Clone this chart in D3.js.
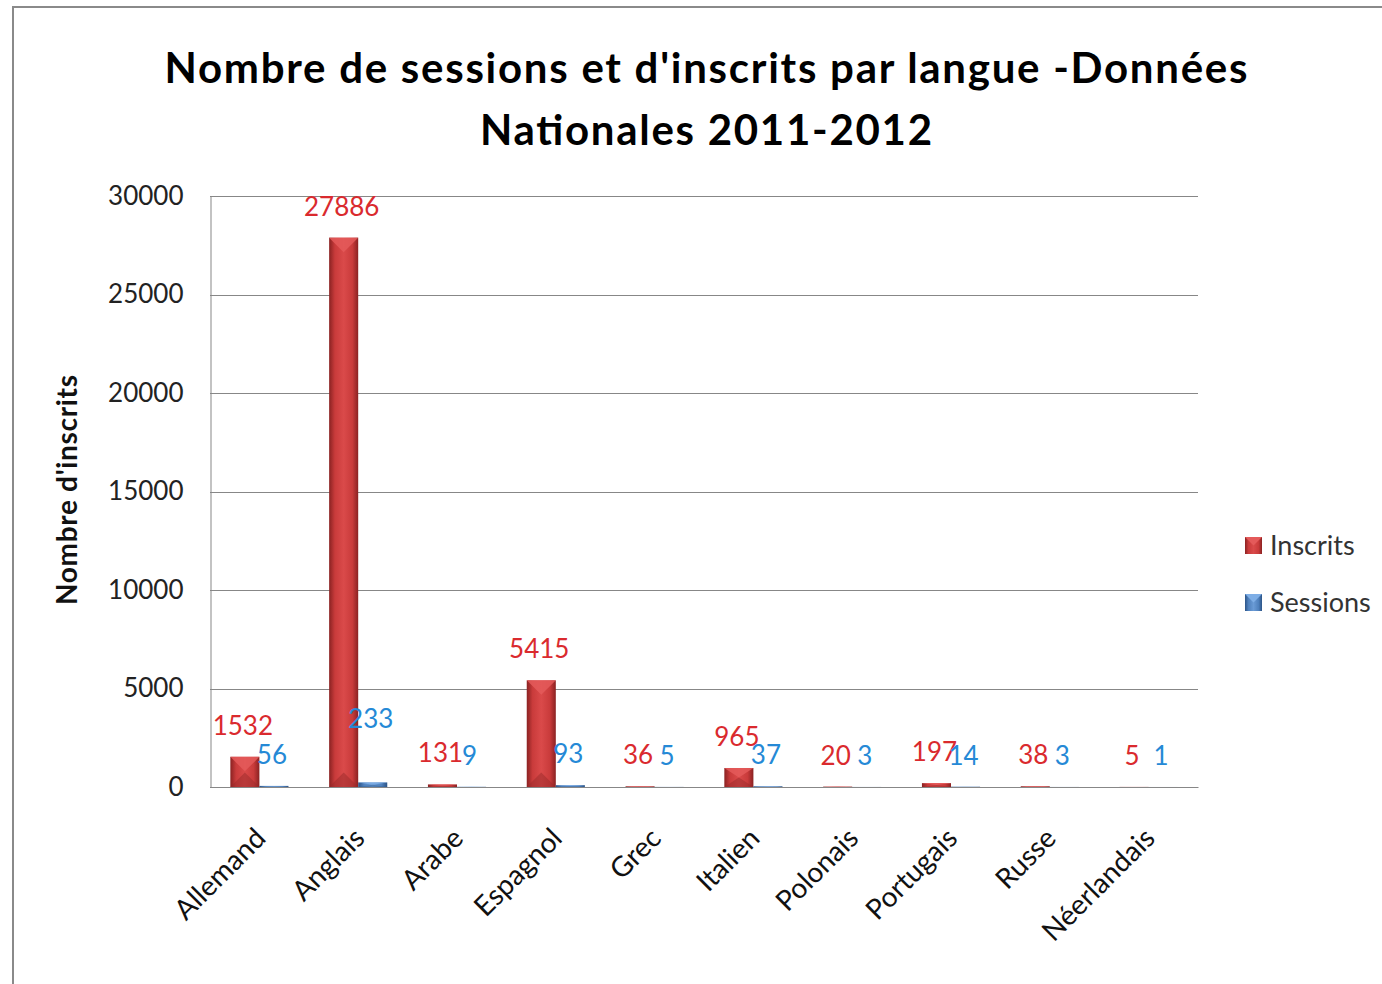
<!DOCTYPE html>
<html lang='fr'>
<head>
	<meta charset='UTF-8'/>
	<title>Sessions et inscrits par langue</title>
	<script src='https://cdnjs.cloudflare.com/ajax/libs/d3/7.8.5/d3.min.js'></script>
	<style>
		body {margin: 0; background: #fff;}
		svg {display: block;}
		text {font-family: Lato, 'Open Sans', sans-serif;}
	</style>
</head>
<body>
	<div class='graph'></div>
	<script>
		// data
		const langues = ['Allemand', 'Anglais', 'Arabe', 'Espagnol', 'Grec', 'Italien', 'Polonais', 'Portugais', 'Russe', 'Néerlandais'];
		const inscrits = [1532, 27886, 131, 5415, 36, 965, 20, 197, 38, 5];
		const sessions = [56, 233, 9, 93, 5, 37, 3, 14, 3, 1];
		const yTicks = [0, 5000, 10000, 15000, 20000, 25000, 30000];
		const seriesNames = ['Inscrits', 'Sessions'];

		const width = 1382, height = 984;
		const margin = {top: 196, right: 184, bottom: 197, left: 210};

		const svg = d3.select('.graph')
			.append('svg')
			.attr('width', width)
			.attr('height', height);

		// chart frame
		svg.append('rect')
			.attr('x', 13).attr('y', 7)
			.attr('width', 1400).attr('height', 1000)
			.style('fill', '#fff')
			.style('stroke', '#8a8a8a')
			.style('stroke-width', 2);

		// gradients for the bevelled bars
		const defs = svg.append('defs');
		const grads = {
			Inscrits: ['#8a2222', '#c93b3b', '#da4a4a', '#c93b3b', '#8a2222'],
			Sessions: ['#2c5487', '#4f81bd', '#6a9bd6', '#4f81bd', '#2c5487']
		};
		Object.keys(grads).forEach(k => {
			const g = defs.append('linearGradient').attr('id', 'g' + k)
				.attr('x1', 0).attr('x2', 1).attr('y1', 0).attr('y2', 0);
			grads[k].forEach((c, i) => g.append('stop')
				.attr('offset', [0, 0.2, 0.5, 0.8, 1][i]).attr('stop-color', c));
		});

		// title
		const title = svg.append('g')
			.style('font-weight', 'bold')
			.style('font-size', '42px')
			.attr('text-anchor', 'middle');
		title.append('text')
			.attr('x', 706).attr('y', 83)
			.attr('textLength', 1083)
			.style('font-family', "'Comic Sans MS', Lato, sans-serif")
			.text("Nombre de sessions et d'inscrits par langue -Données");
		title.append('text')
			.attr('x', 706).attr('y', 145)
			.attr('textLength', 452)
			.style('font-family', "'Comic Sans MS', Lato, sans-serif")
			.text('Nationales 2011-2012');

		// scales
		const x0 = d3.scaleBand()
			.domain(langues)
			.range([margin.left, width - margin.right])
			.padding(0);
		const x1 = d3.scaleBand()
			.domain(seriesNames)
			.range([0, x0.bandwidth()])
			.paddingInner(0)
			.paddingOuter(0.7);
		const y = d3.scaleLinear()
			.domain([0, 30000])
			.range([height - margin.bottom, margin.top]);

		// gridlines
		svg.append('g')
			.selectAll('line')
			.data(yTicks)
			.enter()
			.append('line')
			.attr('x1', margin.left).attr('x2', width - margin.right)
			.attr('y1', d => Math.round(y(d)) + 0.5).attr('y2', d => Math.round(y(d)) + 0.5)
			.style('stroke', '#878787')
			.style('stroke-width', 1);

		// y axis
		const yAxis = svg.append('g')
			.attr('transform', 'translate(' + (margin.left + 0.5) + ', 0)')
			.call(d3.axisLeft(y).tickValues(yTicks).tickFormat(d3.format('d')).tickSize(0).tickPadding(27));
		yAxis.select('.domain').style('stroke', '#878787');
		yAxis.selectAll('text')
			.style('font-family', 'Lato, sans-serif')
			.style('font-size', '26px')
			.style('fill', '#222');

		svg.append('text')
			.attr('transform', 'translate(77, 490) rotate(-90)')
			.attr('text-anchor', 'middle')
			.attr('textLength', 230)
			.style('font-size', '28px')
			.style('font-weight', 'bold')
			.style('fill', '#111')
			.text("Nombre d'inscrits");

		// x axis labels
		const xAxis = svg.append('g')
			.attr('transform', 'translate(0, ' + (height - margin.bottom) + ')')
			.call(d3.axisBottom(x0).tickSize(0).tickPadding(0));
		xAxis.select('.domain').style('stroke', '#878787');
		xAxis.selectAll('text')
			.attr('text-anchor', 'end')
			.attr('dy', 0)
			.attr('transform', 'translate(8, 53) rotate(-45)')
			.style('font-family', 'Lato, sans-serif')
			.style('font-size', '28px')
			.style('fill', '#111');

		// bars
		const rows = langues.map((l, i) => ({langue: l, Inscrits: inscrits[i], Sessions: sessions[i]}));
		const groups = svg.append('g')
			.selectAll('g')
			.data(rows)
			.enter()
			.append('g')
			.attr('transform', d => 'translate(' + x0(d.langue) + ', 0)');

		const bars = groups.selectAll('g')
			.data(d => seriesNames.map(k => ({key: k, value: d[k], other: d.Inscrits})))
			.enter()
			.append('g');

		bars.append('rect')
			.attr('x', d => x1(d.key))
			.attr('y', d => y(d.value))
			.attr('width', x1.bandwidth())
			.attr('height', d => y(0) - y(d.value))
			.style('fill', d => 'url(#g' + d.key + ')');

		// bevel on top and bottom of each bar
		bars.append('path')
			.attr('d', d => {
				const xa = x1(d.key), xb = xa + x1.bandwidth(), xc = xa + x1.bandwidth() / 2;
				const top = y(d.value), depth = Math.min(x1.bandwidth() / 2, (y(0) - top) / 2);
				return 'M' + xa + ',' + top + 'L' + xb + ',' + top + 'L' + xc + ',' + (top + depth) + 'Z';
			})
			.style('fill', d => d.key === 'Inscrits' ? '#e45a5a' : '#7eaee6')
			.style('opacity', 0.85);
		bars.append('path')
			.attr('d', d => {
				const xa = x1(d.key), xb = xa + x1.bandwidth(), xc = xa + x1.bandwidth() / 2;
				const top = y(d.value), bot = y(0), depth = Math.min(x1.bandwidth() / 2, (bot - top) / 2);
				return 'M' + xa + ',' + bot + 'L' + xb + ',' + bot + 'L' + xc + ',' + (bot - depth) + 'Z';
			})
			.style('fill', d => d.key === 'Inscrits' ? '#9a2a2a' : '#345f94')
			.style('opacity', 0.5);

		// data labels
		const labels = bars.append('text')
			.attr('x', d => x1(d.key) + x1.bandwidth() / 2 - 2)
			.attr('y', d => y(d.value) - 22)
			.attr('text-anchor', 'middle')
			.style('font-size', '26px')
			.style('fill', d => d.key === 'Inscrits' ? '#da2a2e' : '#2589d6')
			.text(d => d.value);

		// a session label that runs into a tall red bar is lifted by one line
		labels.filter(d => d.key === 'Sessions').each(function (d) {
			const box = this.getBBox();
			const barRight = x1('Inscrits') + x1.bandwidth();
			if (box.x < barRight - 5 && y(d.other) < box.y) {
				d3.select(this).attr('y', y(d.value) - 54);
			}
		});

		// legend
		const legend = svg.append('g')
			.selectAll('g')
			.data(seriesNames)
			.enter()
			.append('g')
			.attr('transform', (d, i) => 'translate(1245, ' + (537 + i * 57) + ')');
		legend.append('rect')
			.attr('width', 17).attr('height', 17)
			.style('fill', d => 'url(#g' + d + ')');
		legend.append('path')
			.attr('d', 'M0,0L17,0L8.5,8.5Z')
			.style('fill', d => d === 'Inscrits' ? '#e45a5a' : '#7eaee6');
		legend.append('text')
			.attr('x', 25).attr('y', 18)
			.style('font-size', '27px')
			.style('fill', '#333')
			.text(d => d);
	</script>
</body>
</html>
